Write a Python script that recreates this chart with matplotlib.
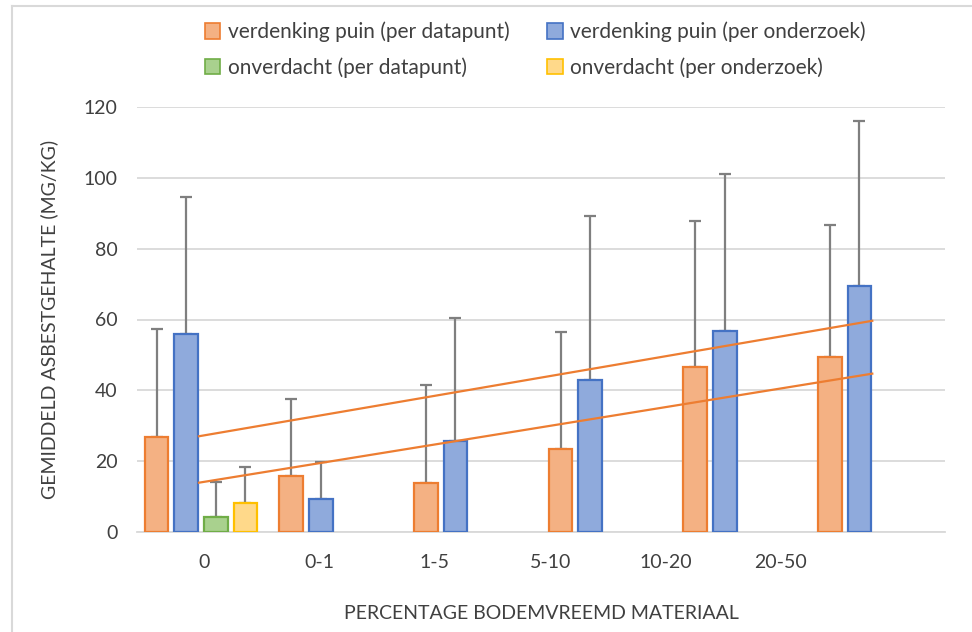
import numpy as np
import matplotlib.pyplot as plt
from matplotlib.lines import Line2D

plt.rcParams['font.family'] = ['Lato', 'DejaVu Sans']

categories = ['0', '0-1', '1-5', '5-10', '10-20', '20-50']

# means and upper error limits (mg/kg)
puin_datapunt = [26.8, 15.7, 13.9, 23.4, 46.7, 49.4]
puin_datapunt_top = [57.3, 37.5, 41.6, 56.5, 87.9, 86.6]
puin_onderzoek = [55.9, 9.3, 25.6, 42.8, 56.8, 69.6]
puin_onderzoek_top = [94.5, 19.9, 60.5, 89.1, 101.0, 116.0]
onverdacht_datapunt = [4.1]
onverdacht_datapunt_top = [14.1]
onverdacht_onderzoek = [8.2]
onverdacht_onderzoek_top = [18.3]

series = [
    ('verdenking puin (per datapunt)', puin_datapunt, puin_datapunt_top, '#F4B183', '#ED7D31', -0.355),
    ('verdenking puin (per onderzoek)', puin_onderzoek, puin_onderzoek_top, '#8FAADC', '#4472C4', -0.135),
    ('onverdacht (per datapunt)', onverdacht_datapunt, onverdacht_datapunt_top, '#A9D18E', '#70AD47', 0.085),
    ('onverdacht (per onderzoek)', onverdacht_onderzoek, onverdacht_onderzoek_top, '#FFD98A', '#FFC000', 0.305),
]

fig = plt.figure(figsize=(9.72, 6.32), dpi=100)
ax = fig.add_axes([137 / 972, 1 - 532 / 632, 808 / 972, 425 / 632])

x = np.arange(len(categories))
width = 0.175
handles = []
for label, vals, tops, face, edge, off in series:
    xs = x[:len(vals)] + off
    vals = np.array(vals)
    err = np.array(tops) - vals
    ax.errorbar(xs, vals, yerr=[np.zeros_like(err), err], fmt='none',
                ecolor='#7F7F7F', elinewidth=1.6, capsize=4.5, capthick=1.6, zorder=2)
    ax.bar(xs, vals, width, color=face, edgecolor=edge, linewidth=1.6, zorder=3)
    handles.append(plt.Rectangle((0, 0), 1, 1, facecolor=face, edgecolor=edge, linewidth=1.2))

# linear trendlines for the two 'verdenking puin' series
for vals in [puin_onderzoek, puin_datapunt]:
    k, b = np.polyfit(x + 1, vals, 1)
    xx = np.array([0, len(categories) - 1]) - 0.04
    ax.plot(xx, k * (xx + 1.04) + b, color='#ED7D31', linewidth=1.6, zorder=4)

ax.set_xlim(-0.5, len(categories) - 0.5)
ax.set_ylim(0, 120)
ax.set_yticks(np.arange(0, 121, 20))
ax.yaxis.grid(True, color='#D9D9D9', linewidth=1.3, zorder=0)
ax.set_axisbelow(True)
for s in ['top', 'right', 'left']:
    ax.spines[s].set_visible(False)
ax.spines['bottom'].set_color('#D9D9D9')
ax.spines['bottom'].set_linewidth(1.3)

ax.set_xticks(x * 0.856)
ax.set_xticklabels(categories)
ax.tick_params(axis='both', length=0, labelsize=14, colors='#404040')
ax.tick_params(axis='x', pad=16)
ax.tick_params(axis='y', pad=14)
ax.set_xlabel('PERCENTAGE BODEMVREEMD MATERIAAL', fontsize=14, color='#404040', labelpad=24)
ax.set_ylabel('GEMIDDELD ASBESTGEHALTE (MG/KG)', fontsize=14, color='#404040', labelpad=18)

# legend filled row by row
order = [0, 2, 1, 3]
fig.legend([handles[i] for i in order], [series[i][0] for i in order], ncol=2,
           loc='upper left', bbox_to_anchor=(186 / 972, 1 - 3 / 632), frameon=False,
           fontsize=15, handlelength=0.75, handleheight=0.75, handletextpad=0.35,
           columnspacing=1.8, labelspacing=0.7, labelcolor='#404040')

# chart area border (left and top edges)
fig.add_artist(Line2D([12 / 972, 12 / 972], [0, 1 - 6 / 632], color='#D9D9D9', linewidth=1.5))
fig.add_artist(Line2D([12 / 972, 1], [1 - 6 / 632, 1 - 6 / 632], color='#D9D9D9', linewidth=1.5))

fig.savefig('out.png', dpi=100)
